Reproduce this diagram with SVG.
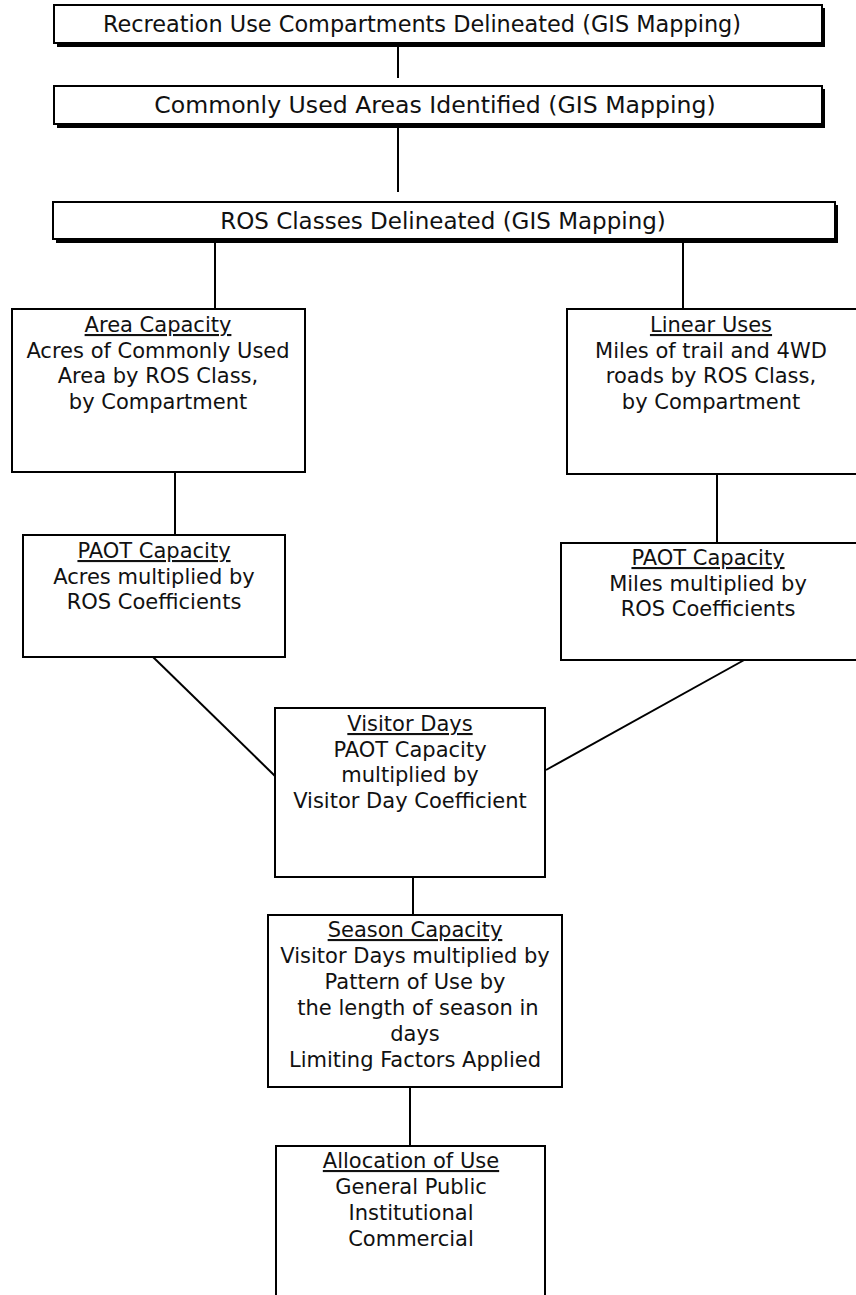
<svg xmlns="http://www.w3.org/2000/svg" width="856" height="1295" viewBox="0 0 856 1295">
<style>
.bx{fill:#fff;stroke:#000;stroke-width:2}
.sh{fill:#000}
.t{font-family:"DejaVu Sans","Open Sans",sans-serif;font-size:21px;fill:#111;text-anchor:middle}
.tt{font-size:22.4px}
.u{text-decoration:underline}
.c{stroke:#000;stroke-width:2;fill:none}
</style>
<rect width="856" height="1295" fill="#fff"/>
<g id="connectors">
<line class="c" x1="398" y1="46" x2="398" y2="78"/>
<line class="c" x1="398" y1="127" x2="398" y2="192"/>
<line class="c" x1="215" y1="241" x2="215" y2="309"/>
<line class="c" x1="683" y1="241" x2="683" y2="309"/>
<line class="c" x1="175" y1="472" x2="175" y2="535"/>
<line class="c" x1="717" y1="474" x2="717" y2="543"/>
<line class="c" x1="153" y1="657" x2="275" y2="776"/>
<line class="c" x1="746" y1="659" x2="546" y2="770"/>
<line class="c" x1="413" y1="877" x2="413" y2="915"/>
<line class="c" x1="410" y1="1073" x2="410" y2="1146"/>
</g>
<g id="n1">
<rect class="sh" x="57" y="8" width="768" height="39"/>
<rect class="bx" x="54" y="5" width="768" height="38"/>
<text class="t tt" x="422" y="32">Recreation Use Compartments Delineated (GIS Mapping)</text>
</g>
<g id="n2">
<rect class="sh" x="57" y="89" width="768" height="39"/>
<rect class="bx" x="54" y="86" width="768" height="38"/>
<text class="t tt" x="435" y="113" style="font-size:23.6px">Commonly Used Areas Identified (GIS Mapping)</text>
</g>
<g id="n3">
<rect class="sh" x="56" y="205" width="782" height="38"/>
<rect class="bx" x="53" y="202" width="782" height="37"/>
<text class="t tt" x="443" y="229" style="font-size:23px">ROS Classes Delineated (GIS Mapping)</text>
</g>
<g id="n4">
<rect class="bx" x="12" y="309" width="293" height="163"/>
<text class="t" x="158" y="332"><tspan class="u">Area Capacity</tspan><tspan x="158" dy="25.7">Acres of Commonly Used</tspan><tspan x="158" dy="25.7">Area by ROS Class,</tspan><tspan x="158" dy="25.7">by Compartment</tspan></text>
</g>
<g id="n5">
<rect class="bx" x="567" y="309" width="300" height="165"/>
<text class="t" x="711" y="332"><tspan class="u">Linear Uses</tspan><tspan x="711" dy="25.7">Miles of trail and 4WD</tspan><tspan x="711" dy="25.7">roads by ROS Class,</tspan><tspan x="711" dy="25.7">by Compartment</tspan></text>
</g>
<g id="n6">
<rect class="bx" x="23" y="535" width="262" height="122"/>
<text class="t" x="154" y="558"><tspan class="u">PAOT Capacity</tspan><tspan x="154" dy="25.7">Acres multiplied by</tspan><tspan x="154" dy="25.7">ROS Coefficients</tspan></text>
</g>
<g id="n7">
<rect class="bx" x="561" y="543" width="306" height="117"/>
<text class="t" x="708" y="565"><tspan class="u">PAOT Capacity</tspan><tspan x="708" dy="25.7">Miles multiplied by</tspan><tspan x="708" dy="25.7">ROS Coefficients</tspan></text>
</g>
<g id="n8">
<rect class="bx" x="275" y="708" width="270" height="169"/>
<text class="t" x="410" y="731"><tspan class="u">Visitor Days</tspan><tspan x="410" dy="25.7">PAOT Capacity</tspan><tspan x="410" dy="25.7">multiplied by</tspan><tspan x="410" dy="25.7">Visitor Day Coefficient</tspan></text>
</g>
<g id="n9">
<rect class="bx" x="268" y="915" width="294" height="172"/>
<text class="t" x="415" y="937"><tspan class="u">Season Capacity</tspan><tspan x="415" dy="26">Visitor Days multiplied by</tspan><tspan x="415" dy="26">Pattern of Use by</tspan><tspan x="418" dy="26">the length of season in</tspan><tspan x="415" dy="26">days</tspan><tspan x="415" dy="26">Limiting Factors Applied</tspan></text>
</g>
<g id="n10">
<rect class="bx" x="276" y="1146" width="269" height="160"/>
<text class="t" x="411" y="1168"><tspan class="u">Allocation of Use</tspan><tspan x="411" dy="26">General Public</tspan><tspan x="411" dy="26">Institutional</tspan><tspan x="411" dy="26">Commercial</tspan></text>
</g>
</svg>
